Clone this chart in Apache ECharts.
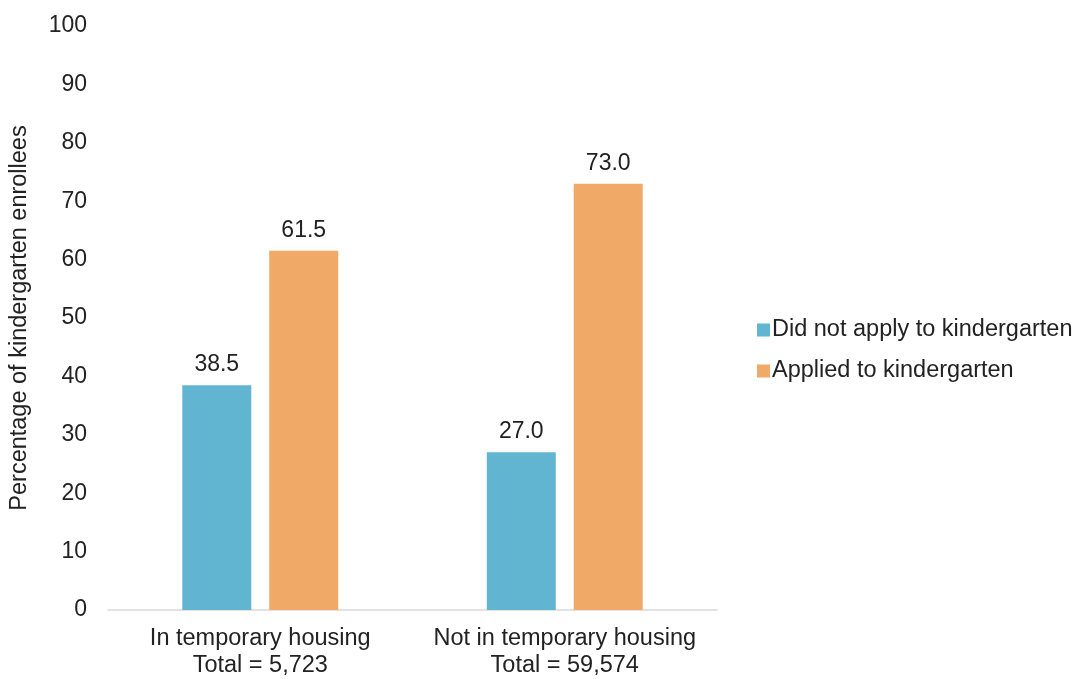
<!DOCTYPE html>
<html><head><meta charset="utf-8">
<script src="https://cdn.jsdelivr.net/npm/echarts@6/dist/echarts.min.js"></script>
<style>html,body{margin:0;padding:0;background:#fff}#c{width:1083px;height:679px}</style>
</head><body><div id="c"></div>
<script>
const categories = ['In temporary housing\nTotal = 5,723', 'Not in temporary housing\nTotal = 59,574'];
const seriesNames = ['Did not apply to kindergarten', 'Applied to kindergarten'];
const didNotApply = [38.5, 27.0];
const applied = [61.5, 73.0];
const yTicks = {min: 0, max: 100, interval: 10};
const font = 'Liberation Sans, Arial, sans-serif';
const chart = echarts.init(document.getElementById('c'));
const lbl = {show: true, position: 'top', distance: 9, fontSize: 23, color: '#222', fontFamily: font, formatter: p => p.value.toFixed(1)};
chart.setOption({
  animation: false,
  grid: {left: 103, right: 366, top: 26, bottom: 66, containLabel: false},
  legend: {
    orient: 'vertical', left: 752, top: 313, itemWidth: 13, itemHeight: 13, itemGap: 17,
    icon: 'rect', textStyle: {fontSize: 23.5, color: '#222', fontFamily: font, padding: [0,0,0,-3]},
    data: seriesNames
  },
  xAxis: {
    type: 'category', data: categories,
    axisLine: {lineStyle: {color: '#d9d9d9', width: 1.5}},
    axisTick: {show: false},
    axisLabel: {interval: 0, fontSize: 23.5, color: '#222', fontFamily: font, margin: 15, lineHeight: 27}
  },
  yAxis: {
    type: 'value', min: yTicks.min, max: yTicks.max, interval: yTicks.interval,
    name: 'Percentage of kindergarten enrollees', nameLocation: 'middle', nameGap: 76,
    nameTextStyle: {fontSize: 23.5, color: '#222', fontFamily: font},
    splitLine: {show: false}, axisLine: {show: false}, axisTick: {show: false},
    axisLabel: {fontSize: 23, color: '#222', fontFamily: font, margin: 21}
  },
  series: [
    {name: seriesNames[0], type: 'bar', data: didNotApply, barWidth: 69, barGap: '26%', itemStyle: {color: '#62B5D0'}, label: lbl},
    {name: seriesNames[1], type: 'bar', data: applied, barWidth: 69, itemStyle: {color: '#F1A967'}, label: lbl}
  ]
});
</script></body></html>
